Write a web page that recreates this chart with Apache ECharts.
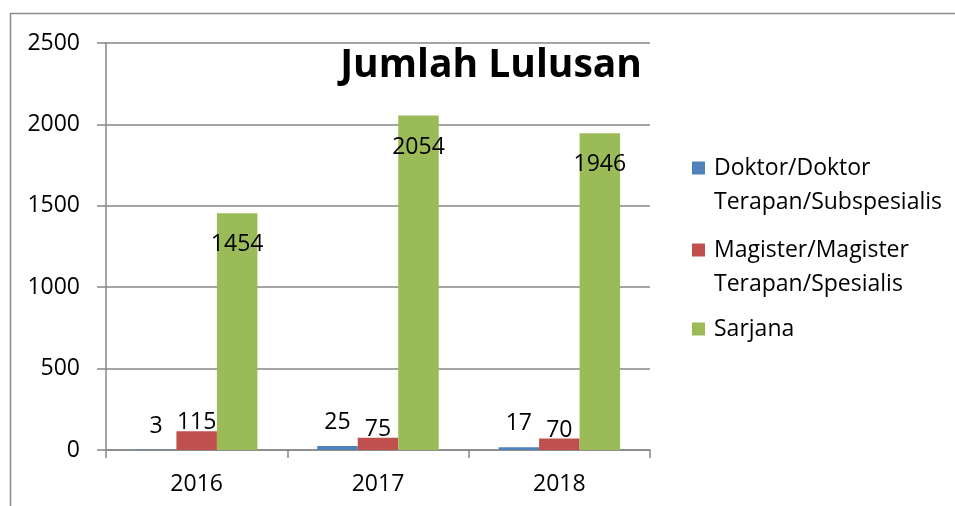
<!DOCTYPE html>
<html>
<head>
<meta charset="utf-8">
<script src="https://cdn.jsdelivr.net/npm/echarts@6/dist/echarts.min.js"></script>
<style>html,body{margin:0;padding:0;background:#fff}#c{width:955px;height:506px}</style>
</head>
<body>
<div id="c"></div>
<script>
var categories = ['2016', '2017', '2018'];
var seriesNames = ['Doktor/Doktor Terapan/Subspesialis', 'Magister/Magister Terapan/Spesialis', 'Sarjana'];
var doktor = [3, 25, 17];
var magister = [115, 75, 70];
var sarjana = [1454, 2054, 1946];
var yTicks = [0, 500, 1000, 1500, 2000, 2500];

var FONT = 'Open Sans';
var FS = 23;
var colors = ['#4F81BD', '#C0504D', '#9BBB59'];
var chart = echarts.init(document.getElementById('c'), null, {renderer: 'canvas'});

function legendFor(name, top) {
  return {
    data: [name],
    orient: 'vertical',
    left: 692,
    top: top,
    padding: 0,
    icon: 'rect',
    itemWidth: 13,
    itemHeight: 13,
    selectedMode: false,
    formatter: function (n) {
      var parts = n.split(' ');
      if (parts.length > 1) return '\n' + parts.join('\n');
      return n;
    },
    textStyle: {fontFamily: FONT, fontSize: FS, color: '#000', lineHeight: 34, padding: [0, 0, 0, 4]}
  };
}

chart.setOption({
  animation: false,
  backgroundColor: '#fff',
  title: {
    text: 'Jumlah Lulusan',
    right: 313,
    top: 46,
    padding: 0,
    textStyle: {fontFamily: FONT, fontSize: 39, fontWeight: 'bold', color: '#000'}
  },
  graphic: [{
    type: 'rect',
    silent: true,
    shape: {x: 10.5, y: 13.5, width: 1000, height: 600},
    style: {fill: null, stroke: '#8c8c8c', lineWidth: 1.5}
  }],
  legend: [
    legendFor(seriesNames[0], 117),
    legendFor(seriesNames[1], 199),
    legendFor(seriesNames[2], 312)
  ],
  grid: {left: 106, right: 305, top: 43, bottom: 56, containLabel: false},
  xAxis: {
    type: 'category',
    data: categories,
    boundaryGap: true,
    axisLine: {show: true, lineStyle: {color: '#868686', width: 1.5}},
    axisTick: {show: true, length: 8, alignWithLabel: false, lineStyle: {color: '#868686', width: 1.5}},
    axisLabel: {fontFamily: FONT, fontSize: FS, color: '#000', margin: 23},
    splitLine: {show: false}
  },
  yAxis: {
    type: 'value',
    min: yTicks[0],
    max: yTicks[yTicks.length - 1],
    interval: yTicks[1] - yTicks[0],
    axisLine: {show: true, lineStyle: {color: '#868686', width: 1.5}},
    axisTick: {show: true, length: 9, lineStyle: {color: '#868686', width: 1.5}},
    axisLabel: {fontFamily: FONT, fontSize: FS, color: '#000', margin: 26, formatter: function (v) { return String(v); }},
    splitLine: {show: true, lineStyle: {color: '#868686', width: 1.5}}
  },
  series: [
    {
      name: seriesNames[0], type: 'bar', data: doktor,
      barGap: '0%', barCategoryGap: '33%',
      itemStyle: {color: colors[0]},
      label: {show: true, position: 'top', distance: 12, fontFamily: FONT, fontSize: FS, color: '#000'}
    },
    {
      name: seriesNames[1], type: 'bar', data: magister,
      barGap: '0%', barCategoryGap: '33%',
      itemStyle: {color: colors[1]},
      label: {show: true, position: 'top', distance: -3, fontFamily: FONT, fontSize: FS, color: '#000'}
    },
    {
      name: seriesNames[2], type: 'bar', data: sarjana,
      barGap: '0%', barCategoryGap: '33%',
      itemStyle: {color: colors[2]},
      label: {show: true, position: 'insideTop', distance: 20, fontFamily: FONT, fontSize: FS, color: '#000'}
    }
  ]
});
</script>
</body>
</html>
